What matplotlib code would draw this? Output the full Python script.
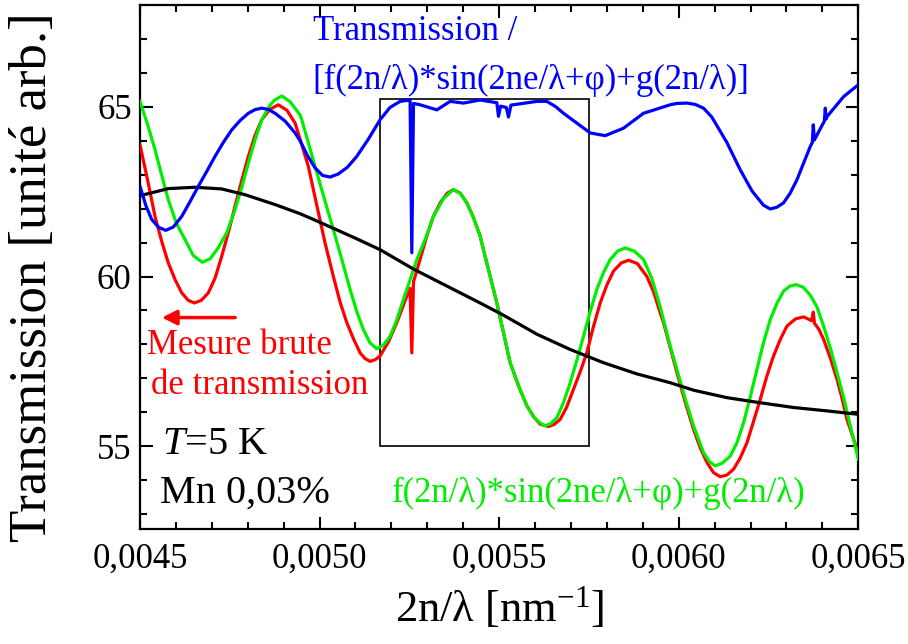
import matplotlib
matplotlib.use("Agg")
import matplotlib.pyplot as plt
from matplotlib.ticker import MultipleLocator, FuncFormatter
from matplotlib.patches import Rectangle

plt.rcParams['font.family'] = ['Liberation Serif', 'DejaVu Serif']
plt.rcParams['mathtext.fontset'] = 'custom'
plt.rcParams['mathtext.rm'] = 'Liberation Serif'
plt.rcParams['mathtext.it'] = 'Liberation Serif:italic'

# ---- data ----
red_x = [0.0045, 0.004521, 0.0045418, 0.00456, 0.0045788, 0.004598, 0.0046162, 0.004634,
         0.0046513, 0.004671, 0.0046903, 0.004709, 0.0047276, 0.004746, 0.0047646, 0.004783,
         0.0048017, 0.00482, 0.004839, 0.004862, 0.0048852, 0.004909, 0.0049318, 0.0049457,
         0.0049688, 0.0049922, 0.005015, 0.0050384, 0.005057, 0.0050758, 0.005095, 0.0051128,
         0.005127, 0.0051407, 0.005155, 0.0051685, 0.005192, 0.005215, 0.0052429, 0.005252,
         0.0052568, 0.0052615, 0.005266, 0.0052986, 0.005316, 0.0053357, 0.005355, 0.0053727,
         0.005392, 0.00541, 0.005428, 0.0054471, 0.0054563, 0.0054936, 0.005512, 0.0055306,
         0.005555, 0.0055772, 0.005597, 0.0056142, 0.0056373, 0.005653, 0.0056699, 0.005688,
         0.005707, 0.005726, 0.0057443, 0.005762, 0.0057813, 0.0058, 0.0058184, 0.00584,
         0.0058602, 0.005885, 0.0059114, 0.00593, 0.0059485, 0.0059577, 0.005995, 0.006018,
         0.0060412, 0.00606, 0.0060786, 0.006097, 0.0061156, 0.006134, 0.0061526, 0.006171,
         0.00619, 0.006208, 0.006227, 0.006245, 0.0062641, 0.006283, 0.0063014, 0.006325,
         0.0063476, 0.00637, 0.0063747, 0.006378, 0.00639, 0.0064033, 0.006422, 0.0064407,
         0.006455, 0.0064685, 0.006484, 0.0065]
red_y = [63.88, 62.85, 61.77, 61.05, 60.40, 59.90, 59.52, 59.30,
         59.22, 59.30, 59.52, 59.95, 60.60, 61.30, 62.07, 62.82,
         63.54, 64.15, 64.62, 64.93, 65.06, 64.90, 64.52, 64.05,
         63.24, 62.10, 61.00, 60.00, 59.25, 58.64, 58.15, 57.75,
         57.58, 57.50, 57.55, 57.66, 58.08, 58.64, 59.42, 59.65,
         57.75, 59.85, 60.00, 61.19, 61.75, 62.17, 62.45, 62.56,
         62.45, 62.17, 61.75, 61.19, 60.79, 59.22, 58.35, 57.46,
         56.75, 56.19, 55.85, 55.65, 55.58, 55.64, 55.79, 56.15,
         56.68, 57.20, 57.76, 58.50, 59.22, 59.75, 60.16, 60.40,
         60.48, 60.38, 60.00, 59.55, 58.93, 58.64, 57.17, 56.30,
         55.50, 54.95, 54.52, 54.22, 54.10, 54.15, 54.32, 54.65,
         55.10, 55.72, 56.38, 57.05, 57.66, 58.15, 58.54, 58.75,
         58.81, 58.70, 58.95, 58.62, 58.45, 58.15, 57.60, 56.97,
         56.40, 55.79, 55.30, 54.80]

green_x = [0.0045, 0.004521, 0.0045418, 0.00456, 0.0045788, 0.004602, 0.0046254, 0.004648,
           0.0046735, 0.004695, 0.0047181, 0.004742, 0.0047646, 0.004784, 0.0048017, 0.004821,
           0.004839, 0.004862, 0.004875, 0.0048947, 0.004918, 0.0049457, 0.0049504, 0.0049875,
           0.005013, 0.0050384, 0.005062, 0.005085, 0.005104, 0.005122, 0.00514, 0.0051593,
           0.005178, 0.0051964, 0.005215, 0.0052334, 0.005252, 0.0052708, 0.005295, 0.005317,
           0.005345, 0.0053727, 0.005392, 0.00541, 0.005428, 0.0054471, 0.0054563, 0.0054936,
           0.005512, 0.0055306, 0.005555, 0.0055772, 0.005597, 0.0056142, 0.0056281, 0.005644,
           0.0056607, 0.005679, 0.0056978, 0.005716, 0.0057348, 0.005753, 0.0057721, 0.005791,
           0.0058092, 0.00583, 0.005851, 0.005876, 0.005902, 0.005925, 0.0059485, 0.0059763,
           0.005995, 0.006018, 0.0060412, 0.0060691, 0.006085, 0.0061017, 0.006121, 0.0061435,
           0.006162, 0.0061805, 0.006199, 0.0062178, 0.006236, 0.0062549, 0.006273, 0.0062919,
           0.00631, 0.0063273, 0.006347, 0.0063663, 0.006385, 0.0064033, 0.006422, 0.0064407,
           0.00646, 0.0064777, 0.0065]
green_y = [65.16, 64.48, 63.74, 63.00, 62.26, 61.55, 61.09, 60.62,
           60.42, 60.52, 60.85, 61.30, 61.97, 62.65, 63.34, 64.05,
           64.62, 65.05, 65.20, 65.32, 65.15, 64.76, 64.62, 63.24,
           62.30, 61.38, 60.50, 59.62, 58.95, 58.44, 58.05, 57.87,
           57.98, 58.24, 58.72, 59.32, 59.90, 60.50, 61.12, 61.77,
           62.30, 62.56, 62.45, 62.17, 61.75, 61.19, 60.79, 59.22,
           58.35, 57.46, 56.75, 56.19, 55.85, 55.68, 55.60, 55.67,
           55.84, 56.28, 56.87, 57.52, 58.24, 58.95, 59.62, 60.13,
           60.50, 60.75, 60.84, 60.75, 60.50, 59.95, 59.10, 57.95,
           57.26, 56.40, 55.60, 54.81, 54.55, 54.42, 54.50, 54.71,
           55.10, 55.69, 56.45, 57.26, 58.05, 58.73, 59.20, 59.57,
           59.72, 59.76, 59.68, 59.45, 59.10, 58.54, 57.90, 57.17,
           56.40, 55.60, 54.62]

blue_x = [0.0045, 0.004516, 0.0045326, 0.004552, 0.0045716, 0.004593, 0.0046162, 0.004639,
          0.0046624, 0.004686, 0.0047089, 0.004732, 0.0047554, 0.004779, 0.0048017, 0.004821,
          0.004839, 0.004858, 0.004876, 0.004904, 0.0049318, 0.0049457, 0.004967, 0.0049875,
          0.005008, 0.0050292, 0.005052, 0.0050776, 0.0051036, 0.005136, 0.0051685, 0.005196,
          0.0052242, 0.005252, 0.0052568, 0.0052615, 0.0052799, 0.0053265, 0.0053635, 0.0054006,
          0.0054471, 0.0054936, 0.0054981, 0.005504, 0.00552, 0.0055259, 0.005533, 0.0055724,
          0.005605, 0.0056329, 0.005658, 0.0056791, 0.0057164, 0.0057535, 0.0057953, 0.0058462,
          0.005902, 0.0059763, 0.005995, 0.0060228, 0.006046, 0.0060691, 0.006092, 0.006134,
          0.006171, 0.006204, 0.006236, 0.0062549, 0.006273, 0.0062919, 0.00631, 0.0063292,
          0.006348, 0.0063663, 0.006372, 0.0063747, 0.0063775, 0.0064055, 0.0064081, 0.0064105,
          0.0064128, 0.0064591, 0.0065]
blue_y = [62.66, 62.10, 61.68, 61.45, 61.36, 61.46, 61.77, 62.20,
          62.66, 63.10, 63.54, 63.95, 64.32, 64.60, 64.81, 64.92,
          64.96, 64.92, 64.81, 64.58, 64.23, 64.00, 63.55, 63.20,
          62.98, 62.93, 63.02, 63.22, 63.54, 64.05, 64.62, 64.98,
          65.16, 65.20, 60.70, 65.10, 65.06, 64.91, 65.16, 65.11,
          65.20, 65.12, 64.72, 65.02, 64.98, 64.70, 65.05, 65.11,
          65.16, 65.16, 65.00, 64.81, 64.52, 64.23, 64.15, 64.37,
          64.81, 65.06, 65.10, 65.11, 65.07, 64.96, 64.70, 63.95,
          63.15, 62.52, 62.10, 61.99, 62.04, 62.17, 62.45, 62.85,
          63.35, 63.83, 63.95, 64.47, 64.02, 64.58, 64.96, 64.64,
          64.71, 65.30, 65.65]

black_x = [0.0045, 0.0045788, 0.0046532, 0.0047276, 0.0047925, 0.004876, 0.0049457,
           0.0049875, 0.0050384, 0.0051036, 0.0051685, 0.0052613, 0.0053635, 0.0054192,
           0.0054471, 0.005512, 0.005605, 0.0056978, 0.0057905, 0.0058836, 0.0059763,
           0.0060412, 0.0061343, 0.006227, 0.0063198, 0.0064128, 0.0065]
black_y = [62.38, 62.59, 62.63, 62.58, 62.41, 62.12, 61.85,
           61.66, 61.42, 61.11, 60.79, 60.22, 59.67, 59.37,
           59.22, 58.86, 58.30, 57.85, 57.46, 57.13, 56.87,
           56.65, 56.43, 56.28, 56.14, 56.04, 55.94]

box_x = [0.0051685, 0.00575]
box_y = [55.01, 65.235]
arrow_x = [0.004765, 0.004561]
arrow_y = 58.79

x_ticks = [0.0045, 0.0050, 0.0055, 0.0060, 0.0065]
y_ticks = [55, 60, 65]

# ---- figure ----
W, H = 908, 644
fig = plt.figure(figsize=(W / 100, H / 100), dpi=100)
ax = fig.add_axes([140 / W, 1 - 529 / H, (858.3 - 140) / W, (529 - 5) / H])

lw = 2.3
ax.plot(red_x, red_y, color='#ff0000', lw=lw, zorder=3, solid_joinstyle='round')
ax.plot(green_x, green_y, color='#00ee00', lw=lw, zorder=4, solid_joinstyle='round')
ax.plot(black_x, black_y, color='black', lw=lw, zorder=5, solid_joinstyle='round')
ax.plot(blue_x, blue_y, color='#0000ff', lw=lw, zorder=6, solid_joinstyle='round')

ax.add_patch(Rectangle((box_x[0], box_y[0]), box_x[1] - box_x[0], box_y[1] - box_y[0],
                       fill=False, ec='black', lw=1.2, zorder=2))

ax.annotate('', xy=(arrow_x[1], arrow_y), xytext=(arrow_x[0], arrow_y),
            arrowprops=dict(arrowstyle='-|>', color='#ff0000', lw=2.5, mutation_scale=22,
                            shrinkA=0, shrinkB=0))

ax.set_xlim(0.0045, 0.0065)
ax.set_ylim(52.56, 68.0)
ax.set_xticks(x_ticks)
ax.set_yticks(y_ticks)
ax.xaxis.set_minor_locator(MultipleLocator(0.0001))
ax.yaxis.set_minor_locator(MultipleLocator(1))
ax.xaxis.set_major_formatter(FuncFormatter(lambda v, p: f"{v:.4f}".replace('.', ',')))
ax.yaxis.set_major_formatter(FuncFormatter(lambda v, p: f"{v:.0f}"))
ax.tick_params(which='both', direction='in', top=True, right=True, width=1.5, labelsize=25)
ax.tick_params(which='major', length=9)
ax.tick_params(which='minor', length=5)
ax.tick_params(axis='x', pad=10)
ax.tick_params(axis='y', pad=6)
for s in ax.spines.values():
    s.set_linewidth(1.6)

ax.set_xlabel('2n/λ [nm$^{-1}$]', fontsize=32, labelpad=6)


def ftext(px, py, s, **kw):
    fig.text(px / W, 1 - py / H, s, ha='left', va='center', **kw)


fig.text(33 / W, 1 - 277 / H, 'Transmission [unité arb.]', rotation=90,
         ha='center', va='center', fontsize=38)

ftext(313, 32, 'Transmission /', color='#0000ff', fontsize=25)
ftext(312, 80, '[f(2n/λ)*sin(2ne/λ+φ)+g(2n/λ)]', color='#0000ff', fontsize=25)
ftext(147, 345, 'Mesure brute', color='#ff0000', fontsize=25)
ftext(151, 385, 'de transmission', color='#ff0000', fontsize=25)
ftext(162, 445, '$\\mathit{T}$=5 K', color='black', fontsize=29)
ftext(160, 493, 'Mn 0,03%', color='black', fontsize=29)
ftext(392, 493, 'f(2n/λ)*sin(2ne/λ+φ)+g(2n/λ)', color='#00ee00', fontsize=25)

fig.savefig('out.png', dpi=100)
